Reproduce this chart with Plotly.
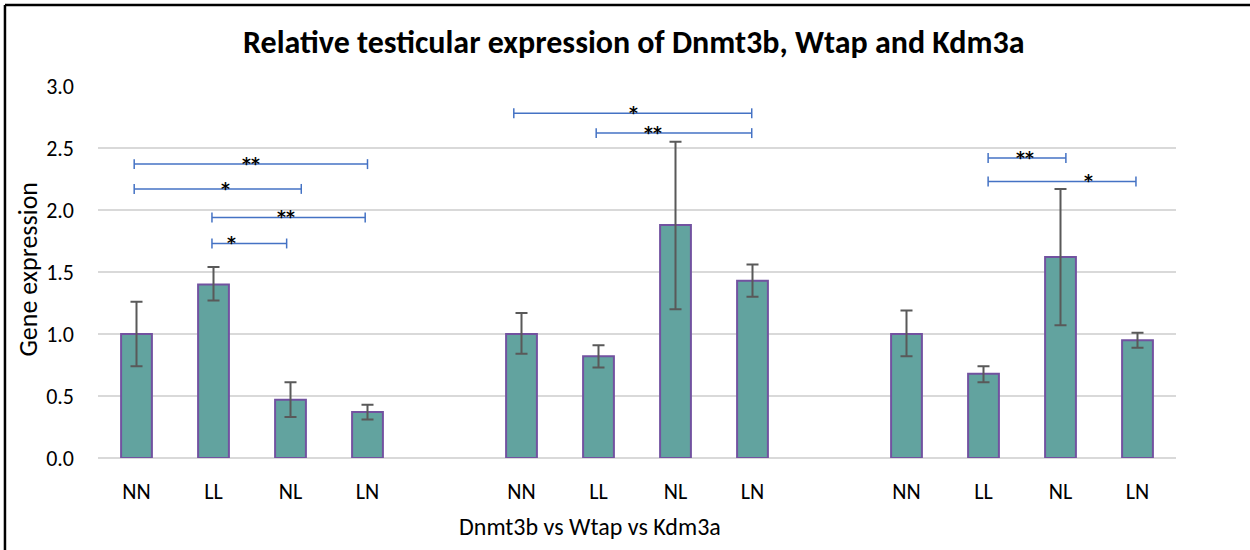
import plotly.graph_objects as go

# ---- data ----
genes = ["Dnmt3b", "Wtap", "Kdm3a"]
groups = ["NN", "LL", "NL", "LN"]
dnmt3b = [1.00, 1.40, 0.47, 0.37]
wtap = [1.00, 0.82, 1.88, 1.43]
kdm3a = [1.00, 0.68, 1.62, 0.95]
err_hi_dnmt3b = [0.26, 0.14, 0.14, 0.06]
err_lo_dnmt3b = [0.26, 0.13, 0.14, 0.06]
err_hi_wtap = [0.17, 0.09, 0.67, 0.13]
err_lo_wtap = [0.16, 0.09, 0.68, 0.13]
err_hi_kdm3a = [0.19, 0.06, 0.55, 0.06]
err_lo_kdm3a = [0.18, 0.07, 0.55, 0.06]

# significance brackets: start slot, end slot, height, label, label slot
sig_x0 = [-0.03, -0.03, 0.98, 0.98, 4.90, 5.97, 11.06, 11.06]
sig_x1 = [3.00, 2.14, 2.97, 1.95, 7.99, 7.99, 12.07, 12.98]
sig_y = [2.37, 2.17, 1.94, 1.73, 2.78, 2.62, 2.42, 2.23]
sig_txt = ["**", "*", "**", "*", "*", "**", "**", "*"]
sig_tx = [1.49, 1.16, 1.94, 1.24, 6.46, 6.71, 11.54, 12.36]

FONT = "Calibri, Carlito, Lato, 'Open Sans', sans-serif"
STAR_FONT = "'DejaVu Sans', sans-serif"

values = dnmt3b + wtap + kdm3a
ehi = err_hi_dnmt3b + err_hi_wtap + err_hi_kdm3a
elo = err_lo_dnmt3b + err_lo_wtap + err_lo_kdm3a
labels = groups * 3
xpos = [g * 5 + i for g in range(3) for i in range(4)]

fig = go.Figure()
fig.add_trace(go.Bar(
    x=xpos, y=values, width=0.4,
    marker=dict(color="#62A39F", line=dict(color="#7252A0", width=2)),
    error_y=dict(type="data", symmetric=False, array=ehi, arrayminus=elo,
                 color="#595959", thickness=2, width=6),
    showlegend=False,
))

shapes = []
annotations = []
cap = 0.04
for x0, x1, y, t, tx in zip(sig_x0, sig_x1, sig_y, sig_txt, sig_tx):
    shapes.append(dict(type="line", xref="x", yref="y", x0=x0, x1=x1, y0=y, y1=y,
                       line=dict(color="#4472C4", width=1.5)))
    for xx in (x0, x1):
        shapes.append(dict(type="line", xref="x", yref="y", x0=xx, x1=xx,
                           y0=y - cap, y1=y + cap, line=dict(color="#4472C4", width=1.5)))
    annotations.append(dict(x=tx, y=y, xref="x", yref="y", text="<b>" + t + "</b>",
                            showarrow=False, yanchor="middle", yshift=0,
                            font=dict(family=STAR_FONT, size=17, color="#000000")))

# frame (top and left edges visible)
shapes.append(dict(type="line", xref="paper", yref="paper", x0=-0.0863, x1=1.1,
                   y0=1.2177, y1=1.2177, line=dict(color="#000000", width=2.5)))
shapes.append(dict(type="line", xref="paper", yref="paper", x0=-0.0863, x1=-0.0863,
                   y0=-0.3, y1=1.2177, line=dict(color="#000000", width=2.5)))

annotations.append(dict(text="Gene expression", xref="paper", yref="paper",
                        x=-0.065, y=0.509, textangle=-90, showarrow=False,
                        xanchor="center", yanchor="middle",
                        font=dict(family=FONT, size=26, color="#000000")))
annotations.append(dict(text=" vs ".join(genes), xref="paper", yref="paper",
                        x=0.456, y=-0.185, showarrow=False,
                        xanchor="center", yanchor="middle",
                        font=dict(family=FONT, size=24, color="#000000")))

fig.update_layout(
    width=1250, height=550,
    margin=dict(l=98, r=74, t=86, b=92),
    paper_bgcolor="white", plot_bgcolor="white",
    title=dict(text="<b>Relative testicular expression of Dnmt3b, Wtap and Kdm3a</b>",
               x=0.507, xanchor="center", y=0.9236, yanchor="middle",
               font=dict(family=FONT, size=32, color="#000000")),
    xaxis=dict(range=[-0.5, 13.5], tickvals=xpos, ticktext=labels,
               showgrid=False, zeroline=False, showline=False, ticks="",
               ticklabelstandoff=18,
               tickfont=dict(family=FONT, size=22, color="#000000")),
    yaxis=dict(range=[0, 3.0], tickvals=[0, 0.5, 1, 1.5, 2, 2.5, 3],
               ticktext=["0.0", "0.5", "1.0", "1.5", "2.0", "2.5", "3.0"],
               showgrid=True, gridcolor="#D9D9D9", gridwidth=1.5,
               zeroline=True, zerolinecolor="#D9D9D9", zerolinewidth=1.5,
               showline=False, ticks="", ticklabelstandoff=23,
               tickfont=dict(family=FONT, size=22, color="#000000")),
    shapes=shapes, annotations=annotations,
)

fig.write_html("out.html", config={"displayModeBar": False},
               post_script="document.body.style.margin='0px';")
